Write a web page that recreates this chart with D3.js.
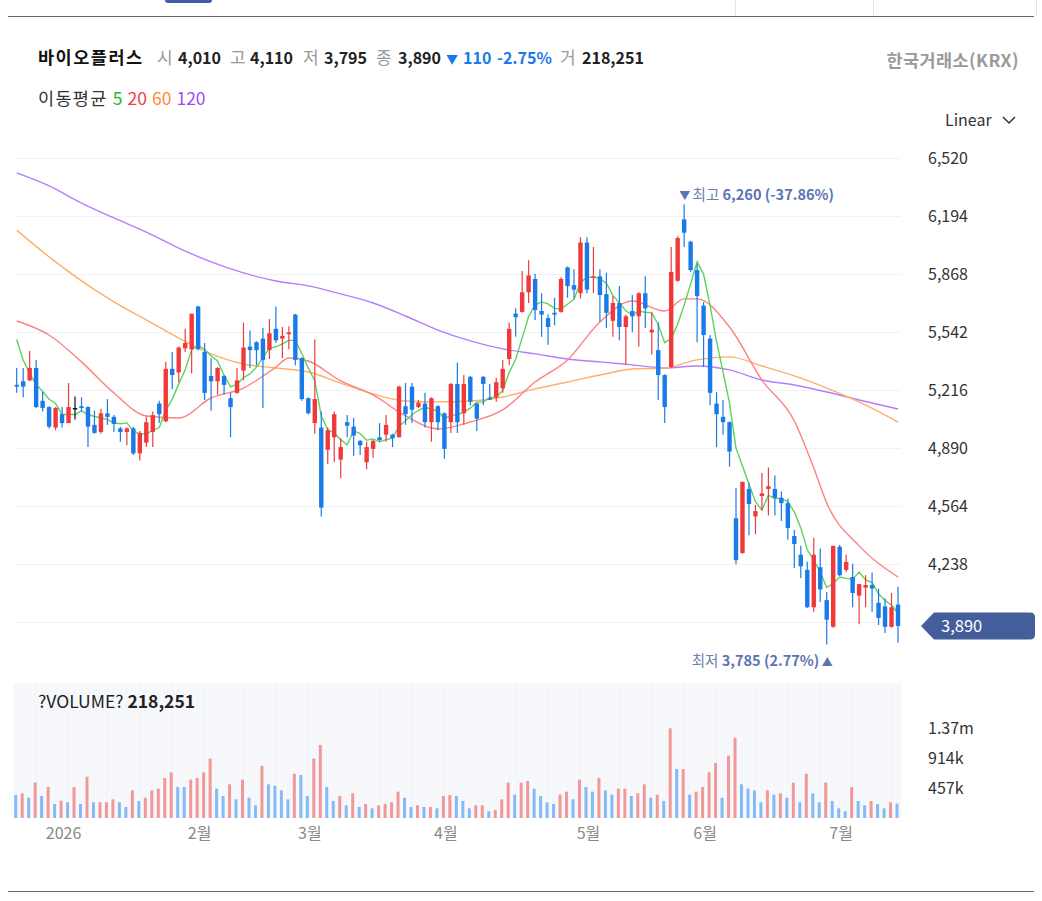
<!DOCTYPE html>
<html>
<head>
<meta charset="utf-8">
<script src="https://cdn.jsdelivr.net/npm/d3@7"></script>
<style>
body { margin: 0; background: #ffffff; }
svg { display: block; font-family: "Noto Sans CJK KR", "Noto Sans", sans-serif; }
</style>
</head>
<body>
<svg id="chart" width="1042" height="901"></svg>
<script>
// ---------- data ----------
var opens = [5245,5265,5270,5340,5155,5120,5005,5080,5030,5115,5125,5120,5020,4980,5085,5065,5000,4980,5000,4860,
  4920,4980,5140,5040,5335,5315,5450,5445,5685,5430,5295,5265,5295,5170,5200,5325,5460,5485,5505,5440,
  5560,5505,5530,5640,5395,5170,5030,5005,4880,4950,4825,5035,5010,4930,4810,4885,4950,4965,4965,4950,
  5125,5235,5120,5140,5035,5125,5085,5035,5250,5085,5290,5140,5290,5170,5175,5225,5390,5645,5655,5765,
  5840,5660,5620,5650,5655,5905,5805,5760,6045,5850,5855,5755,5605,5705,5570,5660,5630,5760,5540,5440,
  5300,5345,5830,6175,6050,5890,5690,5505,5140,5065,5035,4495,4300,4660,4505,4620,4660,4660,4610,4580,
  4395,4290,4205,3995,4220,4035,3885,4335,4205,4165,4060,4105,4120,4020,4000,3885,4010];
var highs = [5340,5340,5435,5385,5205,5125,5120,5120,5255,5180,5175,5125,5100,5110,5165,5075,5010,5005,5010,4985,
  5065,5095,5155,5375,5430,5460,5560,5645,5690,5480,5395,5345,5300,5200,5340,5595,5550,5490,5565,5615,
  5685,5570,5575,5645,5400,5175,5500,5095,5005,5095,4945,5075,5060,4935,4925,4935,5030,5075,4970,5240,
  5255,5255,5160,5200,5175,5130,5090,5255,5370,5300,5295,5145,5295,5250,5285,5385,5595,5675,5885,5945,
  5870,5760,5640,5735,5850,5910,5895,6075,6075,6020,5895,5875,5745,5800,5640,5750,5765,5855,5650,5595,
  5305,6020,6080,6260,6055,5925,5710,5525,5205,5160,5040,4665,4700,4695,4570,4750,4780,4735,4645,4605,
  4430,4340,4250,4385,4325,4080,4340,4345,4290,4240,4125,4175,4190,4100,4045,4075,4110];
var lows = [5200,5175,5265,5115,5095,5000,4990,5005,5030,5050,5095,4895,4970,4970,5020,4980,4925,4905,4850,4820,
  4895,4895,5030,5035,5220,5260,5430,5310,5440,5160,5100,5190,5190,4950,5195,5270,5340,5355,5115,5390,
  5480,5395,5445,5355,5155,5080,4970,4505,4800,4810,4720,4950,4845,4850,4770,4835,4925,4925,4895,4950,
  5020,5030,5115,5005,4925,4990,4830,4975,4975,5020,5130,4985,5130,5160,5150,5200,5355,5515,5650,5705,
  5610,5515,5470,5580,5650,5735,5730,5730,5760,5760,5600,5565,5515,5495,5360,5540,5460,5565,5415,5160,
  5030,5340,5825,6020,5880,5485,5345,5130,4895,4965,4785,4235,4295,4400,4405,4540,4510,4510,4480,4375,
  4215,4160,3990,3970,4025,3785,3880,4170,4195,3995,3900,3995,3970,3895,3850,3880,3795];
var closes = [5235,5235,5340,5120,5115,5010,5115,5030,5120,5115,5115,5010,4975,5085,5065,5025,4980,5000,4860,4975,
  5035,5075,5080,5335,5300,5455,5480,5645,5445,5200,5265,5340,5245,5120,5270,5455,5440,5440,5385,5535,
  5495,5520,5540,5385,5165,5085,5165,4555,4990,5080,4895,5015,4960,4905,4895,4930,4935,5020,4945,5235,
  5080,5105,5145,5035,5170,5035,4885,5250,5035,5250,5150,5055,5250,5165,5260,5335,5560,5625,5765,5860,
  5665,5640,5570,5640,5840,5800,5780,6045,5780,5855,5750,5650,5705,5570,5630,5630,5760,5675,5555,5300,
  5120,5880,6070,6100,5890,5745,5525,5200,5080,5035,4870,4260,4700,4575,4535,4635,4675,4610,4580,4440,
  4350,4225,3995,4290,4095,3925,4340,4175,4250,4075,4125,4120,4100,3935,3885,3995,3890];
// volume in thousands of shares
var volumes = [350,376,309,538,335,472,213,264,239,472,213,629,239,239,239,284,239,168,421,259,
  309,421,447,609,695,472,472,584,609,695,904,447,335,513,284,584,309,193,792,513,
  492,421,284,675,655,335,904,1112,472,259,335,193,376,168,213,147,193,213,239,401,
  309,168,193,168,168,147,335,350,335,259,147,193,193,102,122,284,538,355,538,563,
  447,335,239,213,355,401,284,584,472,401,609,421,355,447,447,335,376,513,309,355,
  259,1366,746,746,355,401,472,695,838,309,949,1223,513,447,421,239,421,355,376,309,
  538,239,675,376,239,538,259,147,102,472,259,193,259,213,147,239,218.251];
// volume bar colour as drawn: r = red, b = blue
var volSide = "brbrbrbrbrbrbrrrbbrbrrrrrbbrrrrbbrbrbbrbbbbrbbrrbbrbrbrbrrrrbbrbrbrrb" +
  "bbrrbrrrbrrbbbbrrbrbbrbbrrbrrbrbrbrbrrrrbrrbbbbrbrbrbrbbrbbbrbbrbbrb";

var ma5Lead = [5500, 5385, 5310, 5245];
var ma20Idx = [0,5,10,15,20,25,30,35,40,42,45,50,55,60,65,70,75,80,85,90,95,100,103,105,110,115,120,123,125,130,136];
var ma20 = [5604,5525,5374,5199,5070,5059,5171,5227,5345,5396,5379,5267,5188,5070,4997,5036,5104,5261,5385,5598,5716,5660,5728,5728,5570,5272,5042,4778,4581,4340,4165];
var maIdx = [0,5,10,15,20,25,30,35,40,45,50,55,60,65,70,75,80,85,90,95,100,105,110,115,120,125,130,136];
var ma60 = [6115,5964,5829,5711,5610,5508,5419,5362,5340,5317,5255,5194,5154,5149,5154,5177,5222,5261,5300,5334,5340,5385,5402,5351,5295,5227,5149,5036];
var ma120 = [6436,6363,6267,6183,6104,6014,5936,5874,5829,5801,5756,5705,5632,5553,5492,5447,5419,5390,5374,5357,5340,5351,5329,5272,5244,5205,5160,5109];

var priceTicks = [6520,6194,5868,5542,5216,4890,4564,4238,3912];
var volTicks = [457,914,1370];
var volTickLabels = ["457k","914k","1.37m"];
var monthIdx = [7,28,45,66,88,106,127];
var monthLabels = ["2026","2월","3월","4월","5월","6월","7월"];

var stockName = "바이오플러스";
var exchange = "한국거래소(KRX)";
var lastChange = -110, lastPct = -2.75;

// ---------- setup ----------
var n = closes.length;
var last = n - 1;
var svg = d3.select("#chart");
var fmt = d3.format(",");

var x = d3.scalePoint().domain(d3.range(n)).range([16.7, 898]);
var bodyW = x.step() * 0.68;
var y = d3.scaleLinear().domain([3912, 6520]).range([622, 158]);
var yv = d3.scaleLinear().domain([0, 1370]).range([818, 728]);

var RED = "#f03a3a", BLUE = "#1a7be8";
function candleColor(i) {
    if (closes[i] > opens[i]) return RED;
    if (closes[i] < opens[i]) return BLUE;
    return "#111111";
}

// top / bottom page chrome
svg.append("rect").attr("x", 165).attr("y", -4).attr("width", 47).attr("height", 7).attr("rx", 3).attr("fill", "#3d5ea6");
[735.5, 873.5, 1036.5].forEach(function(vx) {
    svg.append("line").attr("x1", vx).attr("x2", vx).attr("y1", 0).attr("y2", 16).attr("stroke", "#e4e6ea");
});
svg.append("line").attr("x1", 8).attr("x2", 1034).attr("y1", 16.5).attr("y2", 16.5).attr("stroke", "#5f6670");
svg.append("line").attr("x1", 8).attr("x2", 1034).attr("y1", 891.5).attr("y2", 891.5).attr("stroke", "#6a6e75");

// header line
var head = svg.append("g").attr("font-size", 16);
function htext(tx, str, color, weight, size) {
    return head.append("text").attr("x", tx).attr("y", 64).attr("fill", color)
        .attr("font-weight", weight || 400).attr("font-size", size || 16).text(str);
}
htext(38, stockName, "#111", 700, 17.5).attr("letter-spacing", 1.5);
htext(157, "시", "#999", 400, 17); htext(178, fmt(opens[last]), "#222", 700);
htext(230, "고", "#999", 400, 17); htext(250, fmt(highs[last]), "#222", 700);
htext(303, "저", "#999", 400, 17); htext(324, fmt(lows[last]), "#222", 700);
htext(376, "종", "#999", 400, 17); htext(398, fmt(closes[last]), "#222", 700);
htext(446, "▼", "#1a7be8", 400, 12);
htext(463, fmt(Math.abs(lastChange)), "#1a7be8", 700);
htext(497, lastPct.toFixed(2) + "%", "#1a7be8", 700);
htext(560, "거", "#999", 400, 17); htext(582, fmt(Math.round(volumes[last] * 1000)), "#222", 700);
head.append("text").attr("x", 1019).attr("y", 67).attr("text-anchor", "end").attr("font-size", 17.5)
    .attr("letter-spacing", 0.4).attr("fill", "#9a9a9a").attr("font-weight", 700).text(exchange);

var leg = svg.append("text").attr("x", 38).attr("y", 105).attr("font-size", 17.5);
leg.append("tspan").attr("fill", "#333").attr("letter-spacing", 1.3).text("이동평균 ");
[["5", "#2db52d"], ["20", "#f03c46"], ["60", "#ff8a33"], ["120", "#9a4df2"]].forEach(function(p, k) {
    leg.append("tspan").attr("fill", p[1]).attr("dx", k ? 5 : 0).text(p[0]);
});

svg.append("text").attr("x", 945).attr("y", 126).attr("font-size", 16).attr("fill", "#333").text("Linear");
svg.append("path").attr("d", "M1003,117 L1009,123 L1015,117").attr("fill", "none")
    .attr("stroke", "#333").attr("stroke-width", 1.5);

// ---------- price panel ----------
svg.append("g").selectAll("line").data(priceTicks).enter().append("line")
    .attr("x1", 14).attr("x2", 901)
    .attr("y1", function(d) { return Math.round(y(d)) + 0.5; })
    .attr("y2", function(d) { return Math.round(y(d)) + 0.5; })
    .attr("stroke", "#eef1f5");

// the lowest tick label sits under the current price tag, so it is not written
svg.append("g").selectAll("text").data(priceTicks.filter(function(d) { return Math.abs(y(d) - y(closes[last])) > 16; }))
    .enter().append("text")
    .attr("x", 928).attr("y", function(d) { return y(d) + 6; })
    .attr("font-size", 16).attr("fill", "#333")
    .text(function(d) { return fmt(d); });

// moving averages
var ma5 = closes.map(function(c, i) {
    return i < 4 ? [i, ma5Lead[i]] : [i, d3.mean(closes.slice(i - 4, i + 1))];
});
function zipIdx(idx, vals) { return idx.map(function(d, k) { return [d, vals[k]]; }); }

var lineSmooth = d3.line().x(function(d) { return x(d[0]); }).y(function(d) { return y(d[1]); }).curve(d3.curveMonotoneX);
var lineStraight = d3.line().x(function(d) { return x(d[0]); }).y(function(d) { return y(d[1]); });

var maG = svg.append("g").attr("fill", "none").attr("stroke-width", 1.4);
maG.append("path").attr("d", lineSmooth(zipIdx(maIdx, ma120))).attr("stroke", "#b47dff");
maG.append("path").attr("d", lineSmooth(zipIdx(maIdx, ma60))).attr("stroke", "#ffae6b");
maG.append("path").attr("d", lineSmooth(zipIdx(ma20Idx, ma20))).attr("stroke", "#ff8080");
maG.append("path").attr("d", lineStraight(ma5)).attr("stroke", "#5dd35d");

// candles
var cg = svg.append("g").selectAll("g").data(d3.range(n)).enter().append("g");
cg.append("line")
    .attr("x1", function(i) { return x(i); }).attr("x2", function(i) { return x(i); })
    .attr("y1", function(i) { return y(highs[i]); }).attr("y2", function(i) { return y(lows[i]); })
    .attr("stroke", candleColor).attr("stroke-width", 1.2);
cg.append("rect")
    .attr("x", function(i) { return x(i) - bodyW / 2; })
    .attr("width", bodyW)
    .attr("y", function(i) { return y(Math.max(opens[i], closes[i])); })
    .attr("height", function(i) { return Math.max(1.5, Math.abs(y(opens[i]) - y(closes[i]))); })
    .attr("fill", candleColor);

// high / low annotations
var hiIdx = d3.maxIndex(highs), loIdx = d3.minIndex(lows);
var annColor = "#5b74b2";
var hi = svg.append("text").attr("x", x(hiIdx) - 5).attr("y", y(highs[hiIdx]) - 4).attr("font-size", 14.5);
hi.append("tspan").attr("fill", annColor).attr("font-size", 11).text("▼ ");
hi.append("tspan").attr("fill", "#6d80ad").text("최고 ");
hi.append("tspan").attr("fill", annColor).attr("font-weight", 700)
    .text(fmt(highs[hiIdx]) + " (" + ((closes[last] - highs[hiIdx]) / highs[hiIdx] * 100).toFixed(2) + "%)");

var lo = svg.append("text").attr("x", x(loIdx) + 6).attr("y", y(lows[loIdx]) + 21)
    .attr("text-anchor", "end").attr("font-size", 14.5);
lo.append("tspan").attr("fill", "#6d80ad").text("최저 ");
lo.append("tspan").attr("fill", annColor).attr("font-weight", 700)
    .text(fmt(lows[loIdx]) + " (" + ((closes[last] - lows[loIdx]) / lows[loIdx] * 100).toFixed(2) + "%)");
lo.append("tspan").attr("fill", annColor).attr("font-size", 11).text(" ▲");

// current price tag
var ty = y(closes[last]);
svg.append("path")
    .attr("d", "M921," + ty + " L934," + (ty - 13.5) + " H1030 Q1035," + (ty - 13.5) + " 1035," + (ty - 8.5) +
        " V" + (ty + 8.5) + " Q1035," + (ty + 13.5) + " 1030," + (ty + 13.5) + " H934 Z")
    .attr("fill", "#445e9c");
svg.append("text").attr("x", 941).attr("y", ty + 6).attr("font-size", 16.5).attr("fill", "#ffffff")
    .text(fmt(closes[last]));

// ---------- volume panel ----------
svg.append("rect").attr("x", 14).attr("y", 683).attr("width", 887).attr("height", 135).attr("fill", "#f5f7fb");
svg.append("g").selectAll("line").data(d3.range(n + 1)).enter().append("line")
    .attr("x1", function(i) { return x(0) - x.step() / 2 + i * x.step(); })
    .attr("x2", function(i) { return x(0) - x.step() / 2 + i * x.step(); })
    .attr("y1", 683).attr("y2", 818)
    .attr("stroke", "#ffffff").attr("stroke-opacity", 0.7).attr("stroke-width", 0.8);

svg.append("g").selectAll("rect").data(d3.range(n)).enter().append("rect")
    .attr("x", function(i) { return x(i) - 2.5; })
    .attr("width", 3)
    .attr("y", function(i) { return yv(volumes[i]); })
    .attr("height", function(i) { return yv(0) - yv(volumes[i]); })
    .attr("fill", function(i) { return volSide[i] === "r" ? "#f29899" : "#84bbf6"; });

var vt = svg.append("text").attr("x", 38).attr("y", 708).attr("font-size", 17.5).attr("fill", "#222");
vt.append("tspan").text("?VOLUME? ");
vt.append("tspan").attr("font-weight", 700).text(fmt(Math.round(volumes[last] * 1000)));

svg.append("g").selectAll("text").data(volTicks).enter().append("text")
    .attr("x", 928).attr("y", function(d) { return yv(d) + 6; })
    .attr("font-size", 16).attr("fill", "#333")
    .text(function(d, k) { return volTickLabels[k]; });

// month axis
svg.append("g").selectAll("text").data(monthIdx).enter().append("text")
    .attr("x", function(d) { return x(d) + 1.5; }).attr("y", 839)
    .attr("text-anchor", "middle").attr("font-size", 16).attr("fill", "#8a8a8a")
    .text(function(d, k) { return monthLabels[k]; });
</script>
</body>
</html>
